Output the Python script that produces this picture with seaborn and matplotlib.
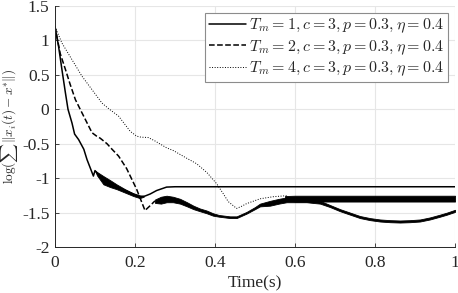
import numpy as np
import pandas as pd
import matplotlib
matplotlib.use("Agg")
import matplotlib.pyplot as plt
import seaborn as sns

# ---- data ----
labels = [r"$T_m=1,c=3,p=0.3,\eta=0.4$",
          r"$T_m=2,c=3,p=0.3,\eta=0.4$",
          r"$T_m=4,c=3,p=0.3,\eta=0.4$"]

t1 = [0, 0.009, 0.0175, 0.026, 0.0325, 0.0425, 0.049, 0.059, 0.072, 0.08, 0.096, 0.100,
      0.121, 0.154, 0.187, 0.212, 0.225, 0.238, 0.254, 0.279, 0.30, 0.4, 0.6, 0.8, 1.0]
v1 = [1.20, 0.91, 0.57, 0.24, 0.0, -0.20, -0.36, -0.44, -0.58, -0.73, -0.97, -0.89,
      -1.03, -1.12, -1.21, -1.27, -1.26, -1.23, -1.18, -1.13, -1.125, -1.125, -1.125, -1.125, -1.125]

# oscillation envelope of Tm=1
tb1 = [0.100, 0.105, 0.121, 0.138, 0.154, 0.175, 0.196, 0.212, 0.222]
up1 = [-0.89, -0.91, -0.97, -1.03, -1.09, -1.16, -1.22, -1.25, -1.26]
lo1 = [-0.89, -0.96, -1.09, -1.13, -1.16, -1.21, -1.26, -1.29, -1.27]

t2 = [0, 0.013, 0.026, 0.038, 0.051, 0.063, 0.076, 0.0925, 0.104, 0.113, 0.13, 0.1425,
      0.159, 0.179, 0.204, 0.225, 0.236, 0.25]
v2 = [1.20, 0.81, 0.58, 0.36, 0.14, 0.0, -0.15, -0.34, -0.39, -0.42, -0.50, -0.58,
      -0.68, -0.86, -1.16, -1.47, -1.41, -1.33]

# oscillation envelope of Tm=2
tb2 = [0.250, 0.265, 0.279, 0.295, 0.3125, 0.33, 0.346, 0.362, 0.379, 0.395, 0.41, 0.4375,
       0.454, 0.479, 0.5, 0.5125, 0.5375, 0.56, 0.579, 0.60, 0.629, 0.645, 0.6625, 0.6875,
       0.7125, 0.7375, 0.7625, 0.7875, 0.8125, 0.8375, 0.8625, 0.8875, 0.9125, 0.9375,
       0.9625, 0.98, 1.0]
up2 = [-1.31, -1.27, -1.255, -1.27, -1.30, -1.35, -1.40, -1.44, -1.47, -1.51, -1.535, -1.555,
       -1.555, -1.49, -1.42, -1.37, -1.33, -1.30, -1.28, -1.275, -1.28, -1.30, -1.33, -1.39,
       -1.45, -1.50, -1.55, -1.58, -1.60, -1.61, -1.615, -1.61, -1.60, -1.57,
       -1.53, -1.50, -1.46]
lo2 = [-1.36, -1.37, -1.35, -1.35, -1.37, -1.41, -1.45, -1.48, -1.51, -1.545, -1.56, -1.58,
       -1.58, -1.515, -1.45, -1.41, -1.40, -1.37, -1.35, -1.35, -1.35, -1.36, -1.37, -1.42,
       -1.48, -1.53, -1.58, -1.61, -1.63, -1.64, -1.645, -1.64, -1.63, -1.60,
       -1.56, -1.53, -1.49]

t3 = [0, 0.0175, 0.0425, 0.0675, 0.0925, 0.1175, 0.134, 0.159, 0.188, 0.204, 0.215, 0.233,
      0.25, 0.279, 0.296, 0.329, 0.354, 0.38, 0.404, 0.42, 0.433, 0.454, 0.466, 0.479,
      0.5125, 0.545, 0.579]
v3 = [1.20, 0.96, 0.72, 0.48, 0.285, 0.09, 0.01, -0.10, -0.32, -0.39, -0.405, -0.41,
      -0.46, -0.56, -0.60, -0.71, -0.79, -0.92, -1.08, -1.22, -1.34, -1.44, -1.41, -1.37,
      -1.30, -1.27, -1.255]

# oscillation envelope of Tm=4
tb3 = [0.575, 0.60, 0.70, 0.80, 0.90, 1.0]
up3 = [-1.26, -1.255, -1.255, -1.255, -1.255, -1.255]
lo3 = [-1.30, -1.34, -1.34, -1.34, -1.34, -1.34]

xticks = [0, 0.2, 0.4, 0.6, 0.8, 1]
xticklabels = ["0", "0.2", "0.4", "0.6", "0.8", "1"]
yticks = [-2, -1.5, -1, -0.5, 0, 0.5, 1, 1.5]
yticklabels = ["-2", "-1.5", "-1", "-0.5", "0", "0.5", "1", "1.5"]

# ---- styling ----
sns.set_style("whitegrid", {"grid.color": "#e6e6e6", "axes.edgecolor": "#262626"})
plt.rcParams["font.family"] = ["Liberation Serif", "DejaVu Serif"]
plt.rcParams["mathtext.fontset"] = "cm"

fig = plt.figure(figsize=(4.58, 2.93), dpi=100)
ax = fig.add_axes([55 / 458, 1 - 247 / 293, 400 / 458, 241 / 293])

df1 = pd.DataFrame({"t": t1, "v": v1})
df2 = pd.DataFrame({"t": t2, "v": v2})
df3 = pd.DataFrame({"t": t3, "v": v3})

sns.lineplot(data=df1, x="t", y="v", ax=ax, color="black", lw=1.1, ls="-",
             label=labels[0], sort=False, estimator=None)
sns.lineplot(data=df2, x="t", y="v", ax=ax, color="black", lw=1.1, ls="--",
             label=labels[1], sort=False, estimator=None)
sns.lineplot(data=df3, x="t", y="v", ax=ax, color="black", lw=0.7, ls=":",
             label=labels[2], sort=False, estimator=None)

ax.fill_between(tb1, lo1, up1, color="black", lw=0.6)
ax.fill_between(tb2, lo2, up2, color="black", lw=0.6)
ax.fill_between(tb3, lo3, up3, color="black", lw=0.6)

ax.set_xlim(0, 1)
ax.set_ylim(-2, 1.5)
ax.set_xticks(xticks)
ax.set_xticklabels(xticklabels)
ax.set_yticks(yticks)
ax.set_yticklabels(yticklabels)
ax.tick_params(direction="in", length=3, width=0.6, labelsize=12.5, colors="#262626",
               labelcolor="#262626", left=True, bottom=True)
ax.tick_params(axis="x", pad=6)
ax.tick_params(axis="y", pad=4)
ax.grid(True, color="#e6e6e6", lw=0.8)
for s in ["top", "right"]:
    ax.spines[s].set_visible(False)
for s in ["left", "bottom"]:
    ax.spines[s].set_linewidth(0.7)
    ax.spines[s].set_color("#262626")

ax.set_xlabel("Time(s)", fontsize=12.5, color="#262626", labelpad=3)
ax.set_ylabel(r"$\log(\sum\|x_i(t)-x^{*}\|)$", fontsize=9.5, color="#262626")
ax.yaxis.set_label_coords(-0.088, 0.5)

leg = ax.legend(loc="upper right", bbox_to_anchor=(0.983, 0.972), borderaxespad=0,
                fontsize=11.5, frameon=True, fancybox=False, framealpha=1,
                edgecolor="#8c8c8c", handlelength=2.3, handletextpad=0.2,
                borderpad=0.25, labelspacing=0.2)
leg.get_frame().set_linewidth(0.8)

fig.savefig("out.png", dpi=100)
